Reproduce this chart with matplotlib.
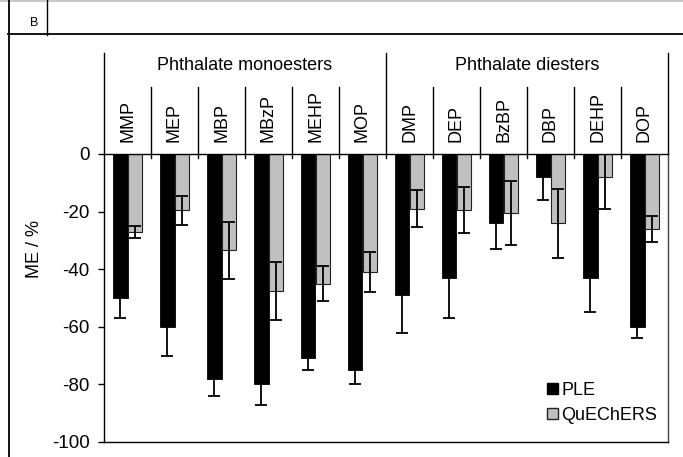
import matplotlib
matplotlib.use('Agg')
import matplotlib.pyplot as plt
from matplotlib.lines import Line2D
from matplotlib.patches import Patch
import numpy as np

plt.rcParams['font.family'] = ['Liberation Sans', 'DejaVu Sans']

# matrix effect (%) per analyte, PLE vs QuEChERS
analytes = ['MMP', 'MEP', 'MBP', 'MBzP', 'MEHP', 'MOP',
            'DMP', 'DEP', 'BzBP', 'DBP', 'DEHP', 'DOP']
groups = ['Phthalate monoesters', 'Phthalate diesters']
ple = [-50, -60, -78, -80, -71, -75, -49, -43, -24, -8, -43, -60]
ple_sd = [7, 10, 6, 7, 4, 5, 13, 14, 9, 8, 12, 4]
quechers = [-27, -19.5, -33.5, -47.5, -45, -41, -19, -19.5, -20.5, -24, -8, -26]
quechers_sd = [2, 5, 10, 10, 6, 7, 6.5, 8, 11, 12, 11, 4.5]
yticks = [0, -20, -40, -60, -80, -100]

W, H = 683, 457
fig = plt.figure(figsize=(W / 100, H / 100), dpi=100)
ax = fig.add_axes([104 / W, 1 - 442 / H, 564 / W, 288 / H])

x = np.arange(len(analytes))
bw = 0.3
ax.bar(x - bw / 2, ple, bw, color='black', edgecolor='black', linewidth=0.6,
       label='PLE', zorder=2)
ax.bar(x + bw / 2, quechers, bw, color='#c0c0c0', edgecolor='#222222', linewidth=0.8,
       label='QuEChERS', zorder=2)
ax.errorbar(x - bw / 2, ple, yerr=ple_sd, fmt='none', ecolor='black',
            elinewidth=1.3, capsize=4.5, capthick=1.3, zorder=3)
ax.errorbar(x + bw / 2, quechers, yerr=quechers_sd, fmt='none', ecolor='black',
            elinewidth=1.3, capsize=4.5, capthick=1.3, zorder=3)

ax.set_xlim(-0.5, len(analytes) - 0.5)
ax.set_ylim(-100, 0)
ax.set_yticks(yticks)
ax.set_yticklabels([str(t) for t in yticks], fontsize=13.5)
ax.set_xticks([])
ax.tick_params(axis='y', direction='out', length=4.5, width=1, pad=6)
for s in ax.spines.values():
    s.set_linewidth(1.0)
ax.spines['right'].set_color('#444444')

ax.set_ylabel('ME / %', fontsize=13)
ax.yaxis.set_label_coords(-0.108, 0.67)

# header: analyte names and group titles above the zero line
trans = ax.get_xaxis_transform()
for i, name in enumerate(analytes):
    ax.text(i, 1.042, name, rotation=90, ha='center', va='bottom',
            fontsize=13, transform=trans)
for k in range(1, len(analytes)):
    top = 1.351 if k == 6 else 1.233
    ax.plot([k - 0.5, k - 0.5], [0.986, top], color='black', lw=1.0,
            transform=trans, clip_on=False)
for xe in [-0.5, len(analytes) - 0.5]:
    ax.plot([xe, xe], [1.0, 1.351], color='black', lw=1.0,
            transform=trans, clip_on=False)
ax.text(2.5, 1.309, groups[0], ha='center', va='center', fontsize=13, transform=trans)
ax.text(8.5, 1.309, groups[1], ha='center', va='center', fontsize=13, transform=trans)

handles = [Patch(facecolor='black', edgecolor='black', label='PLE'),
           Patch(facecolor='#c0c0c0', edgecolor='#222222', label='QuEChERS')]
ax.legend(handles=handles, loc='lower right', bbox_to_anchor=(1.0, 0.025),
          frameon=False, fontsize=13, handlelength=0.6, handleheight=0.6,
          handletextpad=0.2, labelspacing=0.45, borderaxespad=0.2)

# panel frame with the "B" tag
def fline(x0, y0, x1, y1, **kw):
    fig.add_artist(Line2D([x0 / W, x1 / W], [1 - y0 / H, 1 - y1 / H],
                          transform=fig.transFigure, **kw))

fline(0, 0.5, W, 0.5, color='#c8c8c8', lw=1.5)
fline(8, 34, W, 34, color='black', lw=1.3)
fline(9, 0, 9, H, color='black', lw=1.3)
fline(47, 0, 47, 35, color='black', lw=1.0)
fig.text(34 / W, 1 - 23 / H, 'B', ha='center', va='center', fontsize=9)

fig.savefig('out.png', dpi=100)
